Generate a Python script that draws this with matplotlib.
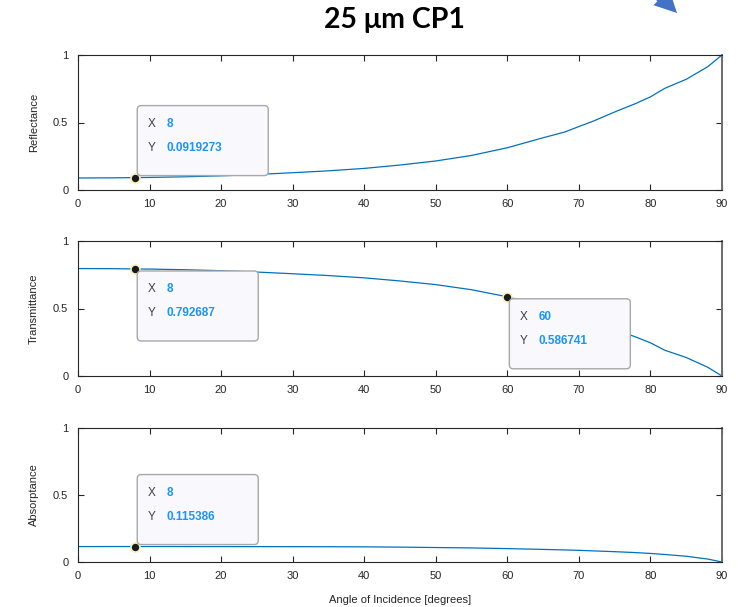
import matplotlib
matplotlib.use('Agg')
import matplotlib.pyplot as plt
from matplotlib.patches import FancyBboxPatch, FancyArrowPatch
from matplotlib.transforms import IdentityTransform

plt.rcParams['font.family'] = ['Liberation Sans', 'DejaVu Sans']

# angle of incidence samples [deg]
angles = [0, 5, 8, 10, 15, 20, 25, 30, 35, 40, 45, 50, 55, 60, 65, 68, 70, 72, 75, 78,
          80, 82, 85, 88, 90]
reflectance = [0.089, 0.090, 0.0919273, 0.093, 0.098, 0.105, 0.115, 0.128, 0.142, 0.160,
               0.185, 0.215, 0.256, 0.313, 0.387, 0.429, 0.470, 0.510, 0.578, 0.642,
               0.690, 0.753, 0.820, 0.913, 1.0]
transmittance = [0.796, 0.795, 0.792687, 0.792, 0.787, 0.780, 0.770, 0.7575, 0.744, 0.727,
                 0.704, 0.677, 0.639, 0.586741, 0.519, 0.481, 0.443, 0.407, 0.345, 0.288,
                 0.246, 0.191, 0.137, 0.065, 0.0]
absorptance = [0.115, 0.1154, 0.115386, 0.1154, 0.1152, 0.1150, 0.1148, 0.1145, 0.114, 0.113,
               0.111, 0.108, 0.105, 0.100, 0.094, 0.090, 0.087, 0.083, 0.077, 0.070,
               0.064, 0.056, 0.043, 0.022, 0.0]

# data tips: (panel index, x, y, side)
tips = [(0, 8, 0.0919273, 'up'),
        (1, 8, 0.792687, 'down'),
        (1, 60, 0.586741, 'down'),
        (2, 8, 0.115386, 'up')]

W, H = 738, 607
fig = plt.figure(figsize=(W / 100, H / 100), dpi=100)

line_color = '#0072BD'
axis_color = '#262626'
panels = [(55, 190, 'Reflectance', reflectance),
          (241, 376, 'Transmittance', transmittance),
          (428, 562, 'Absorptance', absorptance)]

axes = []
for top, bottom, label, values in panels:
    ax = fig.add_axes([78 / W, 1 - bottom / H, (722 - 78) / W, (bottom - top) / H])
    ax.plot(angles, values, color=line_color, lw=0.9)
    ax.set_xlim(0, 90)
    ax.set_ylim(0, 1)
    ax.set_xticks(range(0, 91, 10))
    ax.set_yticks([0, 0.5, 1])
    ax.set_yticklabels(['0', '0.5', '1'])
    ax.tick_params(direction='in', top=True, right=True, length=4, width=0.8,
                   labelsize=8, colors=axis_color)
    ax.tick_params(axis='x', pad=6.5)
    ax.tick_params(axis='y', pad=7)
    for s in ax.spines.values():
        s.set_color(axis_color)
        s.set_linewidth(0.8)
    ax.spines['right'].set_color('#6e6e6e')
    ax.spines['right'].set_linewidth(1.4)
    ax.set_ylabel(label, fontsize=8, color=axis_color, labelpad=10)
    axes.append(ax)

axes[2].set_xlabel('Angle of Incidence [degrees]', fontsize=8, color=axis_color, labelpad=10)

# data tip boxes, laid out in pixel units
fig.canvas.draw()
for idx, x, y, side in tips:
    ax = axes[idx]
    ax.plot([x], [y], 'o', color='#1a1a1a', ms=6.5, mec='#f7f0b8', mew=1.2, zorder=5, clip_on=False)
    px, py = ax.transData.transform((x, y))
    ytxt = f'{y:.7g}'
    bw = 131 if len(ytxt) > 8 else 121
    bh = 70
    x0 = px + 2
    y0 = py + 2 if side == 'up' else py - 2 - bh
    box = FancyBboxPatch((x0, y0), bw, bh, boxstyle='round,pad=0,rounding_size=4',
                         fc='#f9f9fd', ec='#a8a8a8', lw=1.0, transform=IdentityTransform(), zorder=4)
    fig.add_artist(box)
    rows = [('X', f'{x:g}'), ('Y', ytxt)]
    for i, (k, v) in enumerate(rows):
        ty = y0 + bh - 18 - 24 * i
        fig.text(x0 + 10, ty, k, transform=IdentityTransform(), fontsize=8.5,
                 color='#404040', va='center', zorder=6)
        fig.text(x0 + 29, ty, v, transform=IdentityTransform(), fontsize=8.5,
                 color='#1a94ff', fontweight='bold', va='center', zorder=6)

fig.text(394 / W, 1 - 20 / H, '25 \u03bcm CP1', ha='center', va='center',
         fontsize=20.5, fontweight='bold', family=['Lato', 'DejaVu Sans'])

# slide pointer arrow in the top right corner
fig.add_artist(FancyArrowPatch(
    (654, H + 10), (679, H - 15), transform=IdentityTransform(),
    arrowstyle='simple,head_length=0.5,head_width=0.5,tail_width=0.25',
    mutation_scale=32, color='#4472C4', lw=0))

fig.savefig('out.png', dpi=100)
